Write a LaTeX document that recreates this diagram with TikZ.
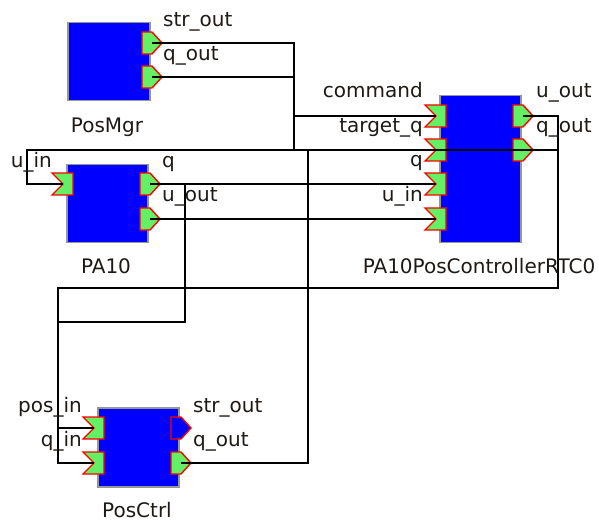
\documentclass[tikz,border=0pt]{standalone}
\usepackage{fontspec}
\setmainfont{DejaVu Sans}
\definecolor{portgreen}{RGB}{100,240,100}
\definecolor{compblue}{RGB}{0,0,255}
\definecolor{boxgray}{RGB}{150,150,150}
\definecolor{txt}{RGB}{30,25,20}
\tikzset{
  comp/.style={draw=boxgray, line width=1.5pt, fill=compblue, rectangle, inner sep=0pt, anchor=north west},
  portline/.style={draw=red, line width=1.4pt, line join=miter},
  wire/.style={draw=black, line width=2pt},
  lbl/.style={inner sep=0pt, font=\fontsize{20}{22}\selectfont, text=txt},
  outport/.pic={\path[portline, fill=#1] (-10,-11) -- (0,-11) -- (10,0) -- (0,11) -- (-10,11) -- cycle; \coordinate (-c) at (0,0);},
  inport/.pic={\path[portline, fill=portgreen] (-11,-11) -- (10,-11) -- (10,11) -- (-11,11) -- (0,0) -- cycle; \coordinate (-c) at (0,0);},
}
\begin{document}
\begin{tikzpicture}[x=1pt,y=-1pt]
\useasboundingbox (0,0) rectangle (599,521);
% components
\node[comp, minimum width=82pt, minimum height=78pt] (posmgr) at (67,22) {};
\node[comp, minimum width=81pt, minimum height=78pt] (pa10) at (66,164) {};
\node[comp, minimum width=81pt, minimum height=147pt] (ctl) at (439,95) {};
\node[comp, minimum width=81pt, minimum height=79pt] (posctrl) at (97,407) {};
% ports
\pic (mgrstr) at (152,43) {outport=portgreen};
\pic (mgrq) at (152,77) {outport=portgreen};
\pic (pauin) at (63,184) {inport};
\pic (paq) at (150,184) {outport=portgreen};
\pic (pau) at (150,219) {outport=portgreen};
\pic (ccmd) at (436,116) {inport};
\pic (ctq) at (436,150) {inport};
\pic (cq) at (436,184) {inport};
\pic (cuin) at (436,219) {inport};
\pic (cuout) at (523,116) {outport=portgreen};
\pic (cqout) at (523,150) {outport=portgreen};
\pic (ppos) at (94,428) {inport};
\pic (pqin) at (94,463) {inport};
\pic (pstr) at (181,428) {outport=compblue};
\pic (pqout) at (181,463) {outport=portgreen};
% bend points
\coordinate (busA) at (294,150);
\coordinate (westA) at (27,150);
\coordinate (eastA) at (558,150);
\coordinate (eastB) at (558,288);
\coordinate (westB) at (58,288);
\coordinate (midC) at (185,322);
\coordinate (colD) at (308,150);
% wires
\draw[wire] (mgrstr-c) -| (busA);
\draw[wire] (mgrq-c) -- (mgrq-c -| busA);
\draw[wire] (busA |- ccmd-c) -- (ccmd-c);
\draw[wire] (pauin-c) -| (westA) -- (eastA);
\draw[wire] (cuout-c) -| (eastB) -- (westB) |- (pqin-c);
\draw[wire] (westB |- ppos-c) -- (ppos-c);
\draw[wire] (paq-c) -- (cq-c);
\draw[wire] (midC |- paq-c) -- (midC) -- (midC -| westB);
\draw[wire] (pau-c) -- (cuin-c);
\draw[wire] (pqout-c) -| (colD);
% labels
\node[lbl, anchor=base west] (t1) at (163,27) {str\_out};
\node[lbl, anchor=base west] (t2) at (163,61) {q\_out};
\node[lbl, anchor=base] (t3) at (107,133) {PosMgr};
\node[lbl, anchor=base east] (t4) at (52,168) {u\_in};
\node[lbl, anchor=base west] (t5) at (162,168) {q};
\node[lbl, anchor=base west] (t6) at (162,202) {u\_out};
\node[lbl, anchor=base] (t7) at (106,273) {PA10};
\node[lbl, anchor=base east] (t8) at (423,98) {command};
\node[lbl, anchor=base east] (t9) at (423,133) {target\_q};
\node[lbl, anchor=base east] (t10) at (423,167) {q};
\node[lbl, anchor=base east] (t11) at (423,202) {u\_in};
\node[lbl, anchor=base west] (t12) at (536,98) {u\_out};
\node[lbl, anchor=base west] (t13) at (536,133) {q\_out};
\node[lbl, anchor=base] (t14) at (479,273) {PA10PosControllerRTC0};
\node[lbl, anchor=base east] (t15) at (82,412) {pos\_in};
\node[lbl, anchor=base east] (t16) at (82,446) {q\_in};
\node[lbl, anchor=base west] (t17) at (193,412) {str\_out};
\node[lbl, anchor=base west] (t18) at (193,446) {q\_out};
\node[lbl, anchor=base] (t19) at (137,517) {PosCtrl};
\end{tikzpicture}
\end{document}
